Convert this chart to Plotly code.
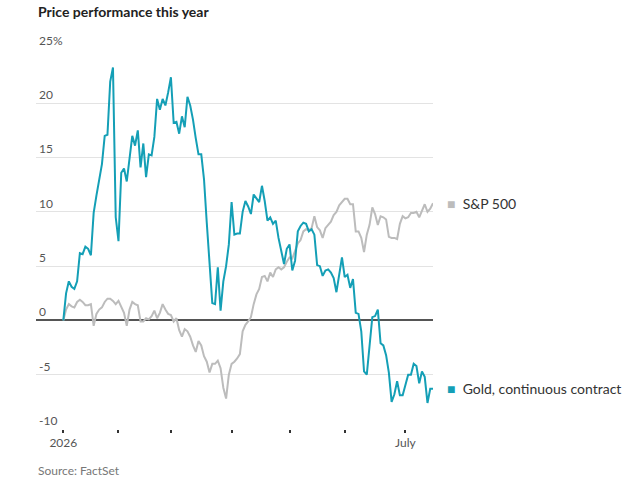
import plotly.graph_objects as go

# Trading-day index since start of year (0 = 2026 start)
gold = [0, 2.5, 3.6, 3.1, 2.9, 3.6, 6.2, 6.1, 6.8, 6.6,
        6.0, 9.9, 11.5, 13.0, 14.4, 17.0, 17.1, 22.0, 23.3, 9.5,
        7.3, 13.6, 14.0, 12.8, 15.0, 17.0, 16.1, 17.5, 14.1, 16.3,
        13.2, 15.3, 15.2, 16.9, 20.4, 19.4, 20.4, 19.8, 21.0, 22.4,
        18.2, 18.3, 17.2, 18.8, 17.8, 20.6, 19.8, 18.5, 16.8, 15.3,
        15.3, 13.0, 9.0, 5.7, 1.6, 1.5, 4.9, 0.9, 3.6, 5.0,
        7.0, 10.9, 7.9, 8.0, 8.0, 10.0, 11.0, 10.5, 9.8, 11.6,
        11.2, 10.9, 12.4, 11.0, 9.2, 9.5, 8.9, 9.2, 7.6, 6.4,
        5.2, 6.6, 7.0, 4.6, 5.5, 8.2, 8.7, 9.0, 8.9, 8.2,
        8.4, 7.9, 5.1, 5.0, 4.1, 4.6, 4.7, 4.4, 3.9, 2.6,
        4.3, 5.8, 4.0, 4.2, 3.0, 3.8, 0.7, 0.6, -1.0, -4.7,
        -5.0, -2.5, 0.3, 0.4, 1.0, -2.1, -2.3, -3.2, -4.8, -7.5,
        -6.8, -5.6, -6.9, -6.9, -6.0, -5.0, -5.0, -4.0, -4.2, -5.8,
        -4.7, -5.2, -7.6, -6.3, -6.3]

sp500 = [0, 1.0, 1.5, 1.3, 1.2, 1.7, 1.9, 1.7, 1.4, 1.4,
         1.5, -0.5, 0.6, 1.0, 1.2, 1.7, 2.0, 2.0, 1.8, 1.5,
         1.8, 1.3, 0.7, -0.5, 1.0, 1.7, 1.5, 1.4, -0.1, -0.1,
         0.2, 0.1, 0.4, 0.9, 0.2, 0.7, 1.5, 1.0, 0.6, 0.5,
         -0.1, 0.2, -0.9, -1.5, -0.8, -1.0, -1.5, -2.3, -2.9, -1.9,
         -2.3, -3.3, -3.8, -4.8, -4.0, -4.0, -3.7, -4.4, -6.2, -7.2,
         -5.0, -4.0, -3.8, -3.5, -3.1, -1.0, -0.4, -0.1, 0.3, 1.5,
         2.4, 2.9, 4.0, 4.1, 3.6, 4.4, 4.0, 4.7, 4.9, 4.7,
         4.9, 5.4, 5.8, 5.7, 6.4, 7.1, 7.4, 8.2, 8.4, 8.3,
         8.5, 9.6, 8.6, 8.3, 7.6, 8.5, 8.8, 9.1, 9.7, 10.0,
         10.6, 10.9, 11.2, 11.2, 10.7, 10.7, 8.2, 8.2, 7.6, 6.3,
         7.9, 8.8, 10.4, 9.8, 8.8, 9.6, 9.5, 9.3, 7.7, 7.6,
         7.6, 7.5, 8.9, 9.6, 9.4, 9.5, 9.9, 9.9, 10.0, 9.5,
         10.2, 10.7, 10.0, 10.3, 10.8]

days = list(range(len(gold)))

month_ticks = [0, 20, 39, 61, 82, 102, 124]
month_labels = ["2026", "", "", "", "", "", "July"]
y_ticks = [-10, -5, 0, 5, 10, 15, 20, 25]
y_labels = ["-10", "-5", "0", "5", "10", "15", "20", "25%"]

GOLD_C = "#149fb6"
SP_C = "#bcbcbc"
FONT = "Lato"

fig = go.Figure()
fig.add_trace(go.Scatter(x=days, y=sp500, mode="lines",
                         line=dict(color=SP_C, width=2), name="S&P 500",
                         hoverinfo="skip"))
fig.add_trace(go.Scatter(x=days, y=gold, mode="lines",
                         line=dict(color=GOLD_C, width=2),
                         name="Gold, continuous contract", hoverinfo="skip"))

fig.add_annotation(x=days[-1], y=sp500[-1], xref="x", yref="y",
                   text=f"<span style='color:{SP_C}'>■</span>  S&P 500",
                   showarrow=False, xanchor="left", yanchor="middle", xshift=12,
                   font=dict(family=FONT, size=14, color="#333333"))
fig.add_annotation(x=days[-1], y=gold[-1], xref="x", yref="y",
                   text=f"<span style='color:{GOLD_C}'>■</span>  Gold, continuous contract",
                   showarrow=False, xanchor="left", yanchor="middle", xshift=12,
                   font=dict(family=FONT, size=14, color="#333333"))

fig.add_annotation(x=0, y=1, xref="paper", yref="paper",
                   text="<b>Price performance this year</b>", showarrow=False,
                   xanchor="left", yanchor="bottom", yshift=27,
                   font=dict(family=FONT, size=14, color="#222222"))
fig.add_annotation(x=0, y=0, xref="paper", yref="paper",
                   text="Source: FactSet", showarrow=False,
                   xanchor="left", yanchor="top", yshift=-32,
                   font=dict(family=FONT, size=12, color="#777777"))

fig.update_layout(
    width=640, height=492,
    margin=dict(l=36, r=207, t=49, b=63),
    paper_bgcolor="white", plot_bgcolor="white",
    showlegend=False,
    font=dict(family=FONT, size=12, color="#555555"),
)
fig.update_xaxes(range=[-9.9, 134], tickvals=month_ticks, ticktext=month_labels,
                 showgrid=False, zeroline=False, showline=False,
                 ticks="outside", ticklen=3, tickwidth=1.5, tickcolor="#333333",
                 tickfont=dict(family=FONT, size=12, color="#555555"))
fig.update_yaxes(range=[-10, 25], tickvals=y_ticks, ticktext=y_labels,
                 showgrid=True, gridcolor="#e3e3e3", gridwidth=1,
                 zeroline=True, zerolinecolor="#555555", zerolinewidth=1.5,
                 ticklabelposition="inside top", ticklabeloverflow="allow",
                 tickfont=dict(family=FONT, size=12, color="#555555"),
                 showline=False)

fig.write_html("out.html")
